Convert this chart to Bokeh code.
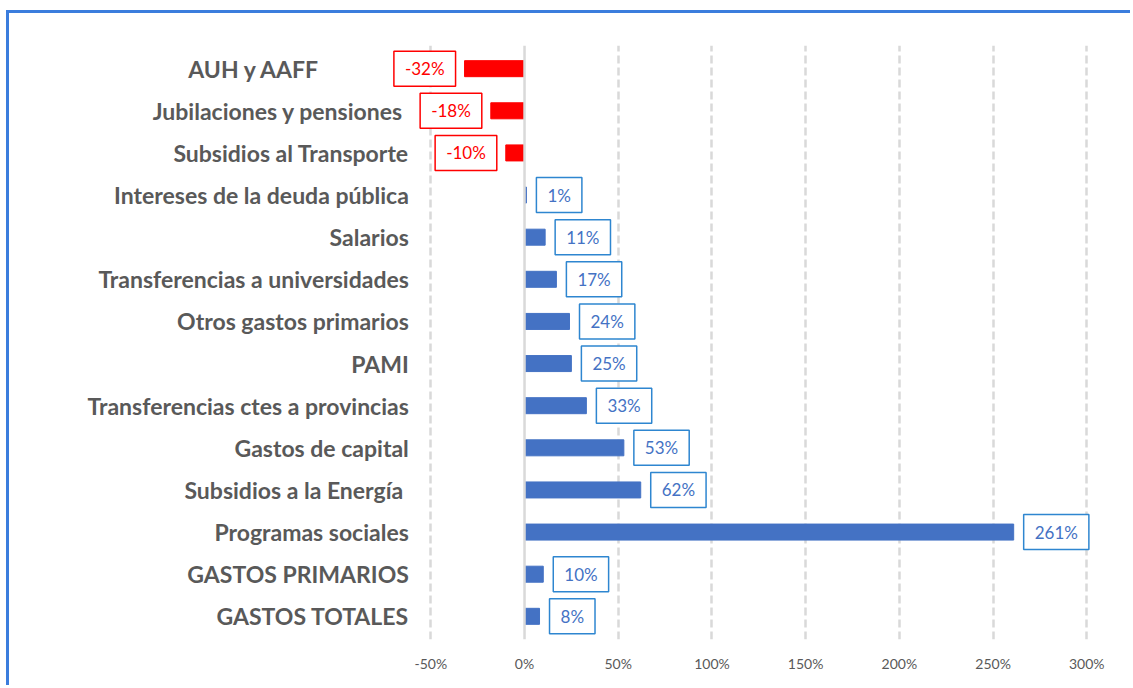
from bokeh.plotting import figure
from bokeh.models import Range1d, FixedTicker, Span, ColumnDataSource, CustomJSTickFormatter
from bokeh.core.properties import value
from bokeh.embed import file_html
from bokeh.resources import INLINE

NB = "\u00a0"
categories = ["AUH y AAFF" + NB * 16, "Jubilaciones y pensiones" + NB, "Subsidios al Transporte",
              "Intereses de la deuda pública", "Salarios", "Transferencias a universidades",
              "Otros gastos primarios", "PAMI", "Transferencias ctes a provincias",
              "Gastos de capital", "Subsidios a la Energía" + NB, "Programas sociales",
              "GASTOS PRIMARIOS", "GASTOS TOTALES"]
values = [-32, -18, -10, 1, 11, 17, 24, 25, 33, 53, 62, 261, 10, 8]
tick_values = [-50, 0, 50, 100, 150, 200, 250, 300]

n = len(categories)
ypos = [n - 1 - i for i in range(n)]
BLUE = "#4472C4"
RED = "#FF0000"
colors = [RED if v < 0 else BLUE for v in values]
box_colors = [RED if v < 0 else "#2E86D0" for v in values]
labels = [f"{v}%" for v in values]

src = ColumnDataSource(dict(y=ypos, v=values, c=colors, bc=box_colors, lab=labels, cat=categories,
                            zero=[0] * n, xl=[-50] * n))
pos = ColumnDataSource({k: [src.data[k][i] for i in range(n) if values[i] >= 0] for k in src.data})
neg = ColumnDataSource({k: [src.data[k][i] for i in range(n) if values[i] < 0] for k in src.data})

p = figure(width=1124, height=675, output_backend="svg", toolbar_location=None,
           x_range=Range1d(-247.6, 318.0), y_range=Range1d(-0.55, n - 1 + 0.55),
           min_border_left=51, min_border_right=13, min_border_top=32, min_border_bottom=49)
p.styles = {"border-top": "3px solid #3B7DDD", "border-left": "3px solid #3B7DDD"}
p.margin = (10, 0, 0, 6)
p.outline_line_color = None
p.background_fill_color = "white"
p.border_fill_color = "white"

# grid
p.ygrid.grid_line_color = None
p.xgrid.ticker = FixedTicker(ticks=[t for t in tick_values if t != 0])
p.xgrid.grid_line_color = "#D9D9D9"
p.xgrid.grid_line_width = 2.5
p.xgrid.grid_line_dash = "8 4"
p.add_layout(Span(location=0, dimension="height", line_color="#D9D9D9", line_width=2.5))

# axes
p.yaxis.visible = False
p.xaxis.ticker = FixedTicker(ticks=tick_values)
p.xaxis.formatter = CustomJSTickFormatter(code="return tick + '%';")
p.xaxis.axis_line_color = None
p.xaxis.major_tick_line_color = None
p.xaxis.minor_tick_line_color = None
p.xaxis.major_label_standoff = 9
p.xaxis.major_label_text_font = "Lato"
p.xaxis.major_label_text_font_size = "14px"
p.xaxis.major_label_text_color = "#595959"

# bars
p.hbar(y="y", left="zero", right="v", height=0.38, color="c", source=src)

# category labels
p.text(x="xl", y="y", text="cat", source=src, x_offset=-22, text_align="right",
       text_baseline="middle", text_font=value("Lato"), text_font_style="bold",
       text_font_size="23px", text_color="#595959")

# data labels
common = dict(text="lab", text_font=value("Lato"), text_font_size="17px",
              text_color="c", border_line_color="bc", border_line_width=1.5,
              background_fill_color="white", padding=(11, 7))
p.text(x="v", y="y", source=pos, anchor="center_left", x_offset=10, **common)
p.text(x="v", y="y", source=neg, anchor="center_right", x_offset=-9, **common)

open("out.html", "w").write(file_html(p, INLINE))
